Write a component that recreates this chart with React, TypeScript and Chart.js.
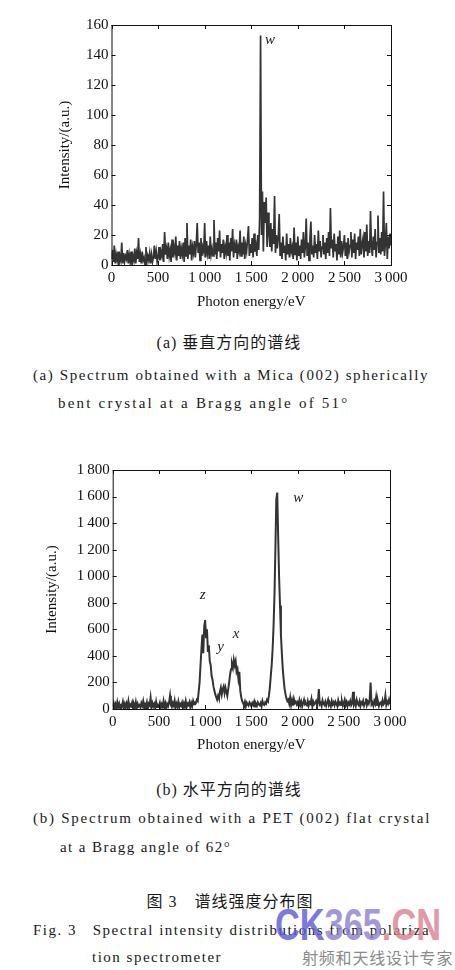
import React, { useEffect, useRef } from "react";
import { Chart, registerables } from "chart.js";

Chart.register(...registerables);

// ---------- data ----------
const energyStepEV = 10; // sampling grid of both spectra (0 … 3000 eV)

// (a) Mica (002) spherically bent crystal, 51°
const micaIntensity = [
  4, 10, 2, 13, 1, 7, 3, 9, 0, 6,
  3, 15, 1, 8, 2, 6, 4, 10, 1, 7,
  2, 9, 0, 6, 3, 11, 1, 8, 4, 18,
  2, 7, 1, 9, 3, 5, 0, 12, 2, 6,
  3, 8, 1, 7, 2, 5, 13, 4, 9, 2,
  5, 12, 3, 9, 6, 14, 2, 22, 7, 11,
  4, 15, 6, 10, 2, 17, 5, 12, 8, 19,
  3, 13, 6, 16, 4, 11, 7, 15, 2, 18,
  6, 28, 4, 13, 7, 17, 3, 12, 8, 16,
  5, 14, 28, 8, 15, 3, 18, 6, 12, 9,
  28, 5, 16, 8, 13, 4, 19, 7, 11, 6,
  30, 7, 15, 4, 18, 9, 23, 5, 14, 8,
  17, 4, 12, 8, 20, 6, 15, 3, 18, 9,
  24, 5, 13, 8, 17, 4, 12, 9, 23, 6,
  15, 7, 19, 4, 13, 9, 17, 26, 6, 14,
  8, 18, 5, 21, 9, 13, 6, 20, 10, 31,
  153, 20, 49, 9, 42, 28, 45, 12, 35, 22,
  12, 28, 9, 24, 14, 46, 8, 20, 11, 18,
  34, 6, 15, 4, 19, 8, 13, 3, 21, 7,
  14, 5, 18, 9, 12, 4, 25, 7, 15, 3,
  19, 6, 13, 4, 17, 8, 22, 5, 12, 31,
  6, 15, 3, 18, 29, 7, 13, 5, 20, 8,
  14, 4, 23, 9, 16, 5, 12, 20, 7, 15,
  4, 18, 8, 22, 6, 38, 11, 17, 5, 21,
  9, 14, 3, 19, 7, 23, 5, 16, 8, 12,
  20, 6, 15, 4, 18, 9, 13, 22, 5, 17,
  8, 21, 4, 15, 10, 19, 6, 24, 7, 14,
  18, 5, 22, 9, 27, 6, 16, 8, 36, 12,
  6, 19, 10, 24, 5, 15, 33, 8, 18, 7,
  22, 9, 49, 6, 15, 28, 4, 19, 11, 21,
  13,
];

// (b) PET (002) flat crystal, 62°
const petIntensity = [
  20, 45, 10, 35, 5, 50, 15, 40, 8, 30,
  25, 55, 12, 38, 6, 42, 18, 60, 10, 33,
  22, 48, 8, 36, 15, 52, 5, 40, 20, 30,
  12, 45, 25, 58, 10, 35, 18, 50, 6, 40,
  28, 85, 12, 44, 20, 38, 8, 55, 16, 30,
  24, 47, 10, 36, 18, 60, 14, 42, 5, 38,
  22, 50, 100, 30, 15, 45, 26, 62, 10, 40,
  20, 55, 12, 38, 25, 48, 8, 42, 18, 58,
  15, 40, 30, 52, 12, 45, 22, 60, 35, 48,
  45, 70, 60, 130, 200, 330, 450, 560, 420, 620,
  670, 540, 600, 430, 480, 360, 330, 250, 220, 170,
  140, 110, 90, 70, 100, 80, 130, 160, 110, 150,
  170, 120, 160, 130, 100, 150, 200, 260, 300, 340,
  310, 370, 330, 360, 280, 300, 230, 280, 140, 90,
  60, 45, 30, 55, 20, 48, 35, 25, 50, 40,
  22, 45, 30, 55, 18, 40, 25, 50, 35, 28,
  45, 20, 60, 35, 30, 50, 40, 70, 60, 100,
  160, 250, 330, 450, 620, 850, 1200, 1580, 1630, 1300,
  1000, 780, 560, 420, 300, 220, 150, 110, 80, 60,
  70, 40, 85, 30, 65, 25, 75, 45, 55, 35,
  50, 25, 65, 30, 55, 20, 45, 70, 35, 40,
  30, 60, 25, 50, 40, 75, 20, 55, 35, 45,
  60, 28, 50, 150, 35, 45, 22, 65, 40, 30,
  55, 25, 48, 70, 30, 42, 20, 60, 35, 50,
  28, 55, 40, 22, 65, 35, 48, 30, 58, 25,
  45, 70, 30, 52, 20, 48, 35, 60, 28, 42,
  130, 35, 55, 25, 68, 40, 30, 58, 22, 50,
  38, 62, 25, 45, 80, 30, 55, 40, 70, 200,
  35, 48, 25, 60, 40, 90, 30, 55, 22, 45,
  50, 28, 65, 35, 45, 100, 30, 55, 40, 70,
  35,
];

const energyTicks = [0, 500, 1000, 1500, 2000, 2500, 3000];
const micaTicks = [0, 20, 40, 60, 80, 100, 120, 140, 160];
const petTicks = [0, 200, 400, 600, 800, 1000, 1200, 1400, 1600, 1800];

// line labels: [text, energy (eV), intensity]
const micaLineLabels: [string, number, number][] = [["w", 1700, 150]];
const petLineLabels: [string, number, number][] = [
  ["z", 974, 858],
  ["y", 1168, 469],
  ["x", 1334, 563],
  ["w", 2008, 1587],
];

const xTitle = "Photon energy/eV";
const yTitle = "Intensity/(a.u.)";

// ---------- helpers ----------
const SERIF = '"Liberation Serif", "Times New Roman", serif';
const CJK = '"Liberation Serif", "Noto Sans CJK SC", serif';

function fmtNum(v: number): string {
  if (v >= 1000) {
    const th = Math.floor(v / 1000);
    const rest = String(v % 1000).padStart(3, "0");
    return th + "\u2009" + rest;
  }
  return String(v);
}

const framePlugin = {
  id: "frame",
  afterDatasetsDraw(chart: any, _args: any, opts: any) {
    const { ctx, chartArea: a, scales } = chart;
    const xs = scales.x;
    const ys = scales.y;
    ctx.save();
    ctx.strokeStyle = "#111";
    ctx.lineWidth = 1;
    ctx.strokeRect(a.left + 0.5, a.top + 0.5, a.right - a.left, a.bottom - a.top);
    const L = 4;
    ctx.beginPath();
    xs.ticks.forEach((t: any) => {
      const px = Math.round(xs.getPixelForValue(t.value)) + 0.5;
      ctx.moveTo(px, a.bottom);
      ctx.lineTo(px, a.bottom - L);
      ctx.moveTo(px, a.top);
      ctx.lineTo(px, a.top + L);
    });
    ys.ticks.forEach((t: any) => {
      const py = Math.round(ys.getPixelForValue(t.value)) + 0.5;
      ctx.moveTo(a.left, py);
      ctx.lineTo(a.left + L, py);
      ctx.moveTo(a.right, py);
      ctx.lineTo(a.right - L, py);
    });
    ctx.stroke();
    ctx.fillStyle = "#222";
    ctx.font = "italic 15px " + SERIF;
    ctx.textAlign = "center";
    ctx.textBaseline = "middle";
    (opts.labels || []).forEach((l: [string, number, number]) => {
      ctx.fillText(l[0], xs.getPixelForValue(l[1]), ys.getPixelForValue(l[2]));
    });
    ctx.restore();
  },
};

type SpecProps = {
  values: number[];
  yTicks: number[];
  labels: [string, number, number][];
  top: number;
  height: number;
  padding: { left: number; right: number; top: number; bottom: number };
  yWidth: number;
  xHeight: number;
  yTitlePad: number;
  xTitlePad: number;
  lineWidth: number;
};

function Spectrum(p: SpecProps) {
  const ref = useRef<HTMLCanvasElement | null>(null);
  useEffect(() => {
    if (!ref.current) return;
    const pts = p.values.map((v, i) => ({ x: i * energyStepEV, y: v }));
    const font = { family: SERIF, size: 15 };
    const chart = new Chart(ref.current, {
      type: "line",
      data: {
        datasets: [
          {
            data: pts,
            borderColor: "#333333",
            borderWidth: p.lineWidth,
            pointRadius: 0,
            tension: 0,
            fill: false,
            borderJoinStyle: "miter",
          },
        ],
      },
      options: {
        animation: false,
        responsive: false,
        devicePixelRatio: 1,
        layout: { padding: p.padding },
        plugins: {
          legend: { display: false },
          tooltip: { enabled: false },
          frame: { labels: p.labels },
        } as any,
        scales: {
          x: {
            type: "linear",
            min: energyTicks[0],
            max: energyTicks[energyTicks.length - 1],
            afterBuildTicks: (s: any) => {
              s.ticks = energyTicks.map((v) => ({ value: v }));
            },
            afterFit: (s: any) => {
              s.height = p.xHeight;
            },
            grid: { display: false, drawTicks: false },
            border: { display: false },
            ticks: {
              font,
              color: "#111",
              padding: 4,
              maxRotation: 0,
              autoSkip: false,
              callback: (v: any) => fmtNum(Number(v)),
            },
            title: {
              display: true,
              text: xTitle,
              font,
              color: "#111",
              padding: { top: 0, bottom: p.xTitlePad },
            },
          },
          y: {
            type: "linear",
            min: p.yTicks[0],
            max: p.yTicks[p.yTicks.length - 1],
            afterBuildTicks: (s: any) => {
              s.ticks = p.yTicks.map((v) => ({ value: v }));
            },
            afterFit: (s: any) => {
              s.width = p.yWidth;
            },
            grid: { display: false, drawTicks: false },
            border: { display: false },
            ticks: {
              font,
              color: "#111",
              padding: 3,
              autoSkip: false,
              callback: (v: any) => fmtNum(Number(v)),
            },
            title: {
              display: true,
              text: yTitle,
              font,
              color: "#111",
              padding: { top: p.yTitlePad, bottom: 0 },
            },
          },
        },
      },
      plugins: [framePlugin as any],
    });
    return () => chart.destroy();
  }, []);
  return (
    <canvas
      ref={ref}
      width={455}
      height={p.height}
      style={{ position: "absolute", left: 0, top: p.top, width: 455, height: p.height }}
    />
  );
}

const lineStyle = (top: number, left: number, spacing = 1.9): React.CSSProperties => ({
  position: "absolute",
  top,
  left,
  fontFamily: CJK,
  fontSize: 15,
  lineHeight: "20px",
  color: "#1a1a1a",
  whiteSpace: "pre",
  letterSpacing: spacing,
});

const centered = (top: number, center: number): React.CSSProperties => ({
  position: "absolute",
  top,
  left: center - 150,
  width: 300,
  textAlign: "center",
  fontFamily: CJK,
  fontSize: 16,
  lineHeight: "20px",
  color: "#1a1a1a",
  letterSpacing: 1,
  whiteSpace: "pre",
});

export default function App() {
  return (
    <div
      style={{
        position: "absolute",
        left: 0,
        top: 0,
        width: 455,
        height: 970,
        background: "#fff",
        overflow: "hidden",
      }}
    >
      <Spectrum
        values={micaIntensity}
        yTicks={micaTicks}
        labels={micaLineLabels}
        top={0}
        height={320}
        padding={{ left: 55, right: 64, top: 25, bottom: 0 }}
        yWidth={56.5}
        xHeight={55}
        yTitlePad={1}
        xTitlePad={9}
        lineWidth={1.7}
      />
      <div style={centered(333, 229)}>(a) 垂直方向的谱线</div>
      <div style={lineStyle(365, 33, 1.6)}>(a) Spectrum obtained with a Mica (002) spherically</div>
      <div style={lineStyle(393, 58, 2.2)}>bent crystal at a Bragg angle of 51°</div>

      <Spectrum
        values={petIntensity}
        yTicks={petTicks}
        labels={petLineLabels}
        top={440}
        height={320}
        padding={{ left: 43, right: 65, top: 30, bottom: 0 }}
        yWidth={69.7}
        xHeight={51}
        yTitlePad={0}
        xTitlePad={6}
        lineWidth={2}
      />
      <div style={centered(780, 229)}>(b) 水平方向的谱线</div>
      <div style={lineStyle(808, 33, 1.75)}>(b) Spectrum obtained with a PET (002) flat crystal</div>
      <div style={lineStyle(837, 60, 1.4)}>at a Bragg angle of 62°</div>

      <div style={centered(892, 230)}>图 3　谱线强度分布图</div>
      <div style={lineStyle(920, 33, 1.5)}>Fig. 3   Spectral intensity distributions from polariza</div>
      <div style={lineStyle(947, 92, 1.5)}>tion spectrometer</div>

      <div
        style={{
          position: "absolute",
          left: 275,
          top: 900,
          fontFamily: '"Liberation Sans", sans-serif',
          fontWeight: 700,
          fontSize: 44,
          lineHeight: "50px",
          transform: "scaleX(0.78)",
          transformOrigin: "left top",
          whiteSpace: "nowrap",
          opacity: 0.8,
        }}
      >
        <span style={{ color: "#5a5ad8" }}>CK</span>
        <span style={{ color: "#8f7fd0" }}>365</span>
        <span style={{ color: "#d98290" }}>.CN</span>
      </div>
      <div
        style={{
          position: "absolute",
          left: 302,
          top: 947,
          fontFamily: '"Noto Sans CJK SC", sans-serif',
          fontSize: 16,
          lineHeight: "20px",
          color: "#8a8a8a",
          whiteSpace: "nowrap",
          letterSpacing: 0.8,
        }}
      >
        射频和天线设计专家
      </div>
    </div>
  );
}
